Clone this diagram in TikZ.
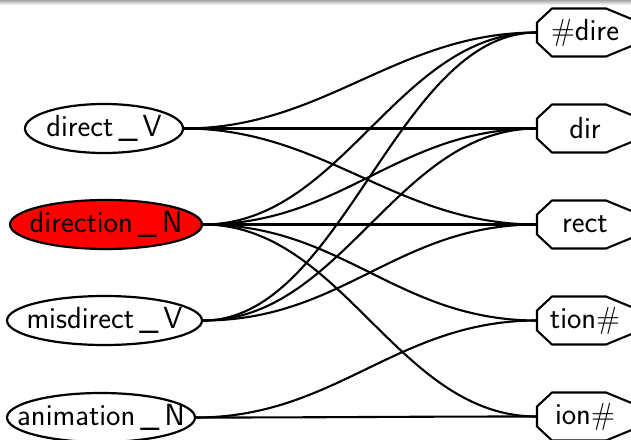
\documentclass[tikz,border=0pt]{standalone}
\usetikzlibrary{shapes.geometric}

% octagon box for a morph: name, row, label
\newcommand{\morph}[3]{
	\node[morph] (#1) at (\mfX, #2) {#3};
	\draw[edge] (\mfX-48, #2-10) -- (\mfX-33, #2-24) -- (\mfX+21, #2-24) -- (\mfX+55, #2-10)
		-- (\mfX+55, #2+10) -- (\mfX+21, #2+24) -- (\mfX-33, #2+24) -- (\mfX-48, #2+10) -- cycle;
}

% spline from a lemma to a morph
\newcommand{\plink}[2]{
	\draw[edge] (#1.east) .. controls +(140,0) and +(-140,0) .. (#2.west);
}

\begin{document}
\begin{tikzpicture}[x=1pt, y=-1pt, font=\fontsize{30.5}{36}\selectfont\sffamily,
	edge/.style={line width=2.1pt},
	lemma/.style={ellipse, draw, line width=2.2pt, fill=white, inner xsep=-40pt, inner ysep=0pt, minimum height=49pt},
	morph/.style={inner sep=0pt, minimum width=96pt, minimum height=48pt}]
\useasboundingbox (0,0) rectangle (631,439);
\clip (0,0) rectangle (631,439);
\shade[top color=black!35, bottom color=white] (0,0) rectangle (631,5);

\pgfmathsetmacro{\mfX}{585}
\pgfmathsetmacro{\rowA}{32.5}
\pgfmathsetmacro{\rowB}{128.5}
\pgfmathsetmacro{\rowC}{224.5}
\pgfmathsetmacro{\rowD}{320.5}
\pgfmathsetmacro{\rowE}{416.5}

\node[lemma, minimum width=158pt] (directV) at (104, \rowB) {direct\,\_\,V};
\node[lemma, minimum width=192pt, fill=red] (directionN) at (106, \rowC) {direction\,\_\,N};
\node[lemma, minimum width=195pt] (misdirectV) at (104.5, \rowD) {misdirect\,\_\,V};
\node[lemma, minimum width=188pt] (animationN) at (101, \rowE+1) {animation\,\_\,N};

\morph{dire}{\rowA}{\#dire}
\morph{dir}{\rowB}{dir}
\morph{rect}{\rowC}{rect}
\morph{tion}{\rowD}{tion\#}
\morph{ion}{\rowE}{ion\#}

\plink{directV}{dire}
\plink{directV}{dir}
\plink{directV}{rect}

\plink{directionN}{dire}
\plink{directionN}{dir}
\plink{directionN}{rect}
\plink{directionN}{tion}
\plink{directionN}{ion}

\plink{misdirectV}{dire}
\plink{misdirectV}{dir}
\plink{misdirectV}{rect}

\plink{animationN}{tion}
\plink{animationN}{ion}
\end{tikzpicture}
\end{document}
